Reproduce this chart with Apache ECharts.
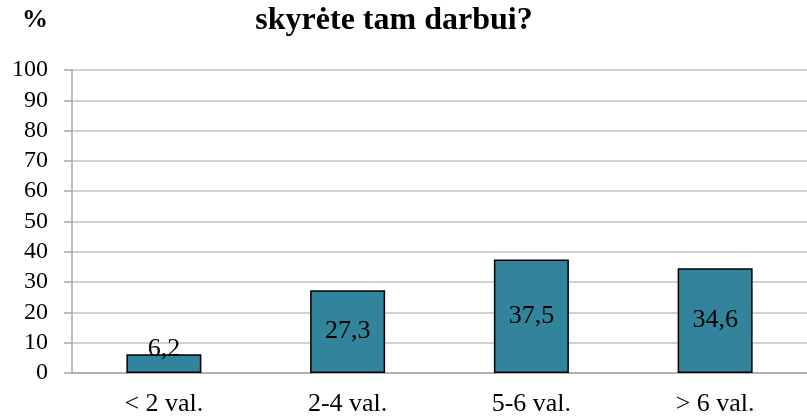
<!DOCTYPE html>
<html>
<head>
<meta charset="utf-8">
<script src="https://cdn.jsdelivr.net/npm/echarts@6/dist/echarts.min.js"></script>
<style>
  html, body { margin: 0; padding: 0; background: #fff; }
  #chart { width: 807px; height: 420px; }
</style>
</head>
<body>
<div id="chart"></div>
<script>
const categories = ["< 2 val.", "2-4 val.", "5-6 val.", "> 6 val."];
const values = [6.2, 27.3, 37.5, 34.6];
const yTicks = { min: 0, max: 100, step: 10 };

const font = "'Liberation Serif', 'DejaVu Serif', serif";
const chart = echarts.init(document.getElementById("chart"));

chart.setOption({
  animation: false,
  title: [
    {
      text: "skyrėte tam darbui?",
      left: 389,
      top: 0,
      textAlign: "center",
      textStyle: { fontFamily: font, fontSize: 32, fontWeight: "bold", color: "#000" }
    },
    {
      text: "%",
      left: 17,
      top: 2,
      textStyle: { fontFamily: font, fontSize: 26, fontWeight: "bold", color: "#000" }
    }
  ],
  grid: { left: 72, top: 70, width: 744, height: 303 },
  xAxis: {
    type: "category",
    data: categories,
    axisLine: { lineStyle: { color: "#a6a6a6", width: 1.5 } },
    axisTick: { show: false },
    axisLabel: { fontFamily: font, fontSize: 26, color: "#000", margin: 18 }
  },
  yAxis: {
    type: "value",
    min: yTicks.min,
    max: yTicks.max,
    interval: yTicks.step,
    axisLine: { show: true, lineStyle: { color: "#a6a6a6", width: 1.5 } },
    axisTick: { show: true, length: 8, lineStyle: { color: "#a6a6a6", width: 1.5 } },
    splitLine: { lineStyle: { color: "#c0c0c0", width: 1.5 } },
    axisLabel: { fontFamily: font, fontSize: 24, color: "#000", margin: 24 }
  },
  series: [
    {
      type: "bar",
      barWidth: 75,
      data: values.map((v, i) => ({
        value: v,
        label: i === 0 ? { position: "top", distance: -8 } : { position: "inside" }
      })),
      itemStyle: { color: "#31849b", borderColor: "#000", borderWidth: 1.5 },
      label: {
        show: true,
        fontFamily: font,
        fontSize: 26,
        color: "#000",
        formatter: p => String(p.value).replace(".", ",")
      }
    }
  ]
});
</script>
</body>
</html>
